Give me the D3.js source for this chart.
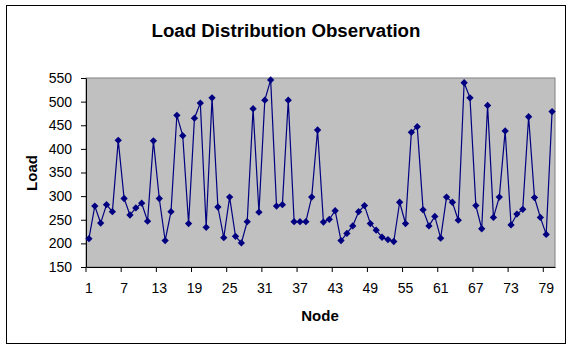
<!DOCTYPE html>
<html>
<head>
<meta charset="utf-8">
<script src="https://cdn.jsdelivr.net/npm/d3@7"></script>
<style>
  body { margin: 0; background: #fff; }
  text { font-family: "Liberation Sans", Arial, sans-serif; }
</style>
</head>
<body>
<div id="chart"></div>
<script>
// node numbers 1..80
var nodes = d3.range(1, 81);

// load per node
var loads = [
  210, 279, 243, 282, 267, 418, 295, 260, 275, 285,
  247, 417, 295, 206, 267, 471, 428, 242, 465, 497,
  234, 508, 277, 212, 298, 215, 201, 246, 485, 266,
  503, 546, 279, 282, 503, 246, 246, 246, 298, 440,
  245, 251, 269, 206, 221, 237, 267, 280, 242, 228,
  213, 208, 204, 287, 242, 435, 447, 271, 237, 257,
  211, 298, 287, 249, 540, 508, 280, 231, 492, 255,
  298, 438, 239, 262, 272, 468, 297, 255, 219, 479
];

var xTickLabels = [1, 7, 13, 19, 25, 31, 37, 43, 49, 55, 61, 67, 73, 79];
var yTicks = [150, 200, 250, 300, 350, 400, 450, 500, 550];

function init(){
    var w = 574, h = 351;
    var left = 86, right = 555, top = 78, bottom = 267;

    var svg = d3.select("#chart")
        .append("svg")
        .attr("width", w)
        .attr("height", h);

    // outer chart border
    svg.append("rect")
        .attr("x", 6.5).attr("y", 5.5)
        .attr("width", 559).attr("height", 338)
        .attr("fill", "#fff")
        .attr("stroke", "#000");

    svg.append("text")
        .attr("x", 286).attr("y", 37)
        .attr("text-anchor", "middle")
        .style("font-size", "18.7px")
        .style("font-weight", "bold")
        .text("Load Distribution Observation");

    var xScale = d3.scaleBand()
        .domain(nodes)
        .range([left, right])
        .padding(0);

    var yScale = d3.scaleLinear()
        .domain([150, 550])
        .range([bottom, top]);

    // plot area
    svg.append("rect")
        .attr("x", left).attr("y", top)
        .attr("width", right - left).attr("height", bottom - top)
        .attr("fill", "#c0c0c0")
        .attr("stroke", "#808080");

    var bw = xScale.bandwidth();

    var xAxis = svg.append("g")
        .attr("transform", "translate(0," + bottom + ")")
        .call(d3.axisBottom(xScale)
            .tickValues(xTickLabels)
            .tickSize(5)
            .tickPadding(11)
            .tickSizeOuter(0));
    // excel puts the marks between categories
    xAxis.selectAll(".tick line").attr("transform", "translate(" + (-bw / 2) + ",0)");

    var yAxis = svg.append("g")
        .attr("transform", "translate(" + left + ",0)")
        .call(d3.axisLeft(yScale)
            .tickValues(yTicks)
            .tickSize(5)
            .tickPadding(9)
            .tickSizeOuter(0));

    svg.selectAll(".domain, .tick line").attr("stroke", "#000");
    svg.selectAll(".tick text")
        .style("font-size", "14px")
        .style("font-family", "'Liberation Sans', Arial, sans-serif")
        .attr("fill", "#000");

    var line = d3.line()
        .x(function(d, i){ return xScale(nodes[i]) + bw / 2; })
        .y(function(d){ return yScale(d); });

    svg.append("path")
        .datum(loads)
        .attr("d", line)
        .attr("fill", "none")
        .attr("stroke", "#000080")
        .attr("stroke-width", 1.2);

    var diamond = d3.symbol().type(d3.symbolDiamond2).size(34);
    svg.selectAll(".pt")
        .data(loads)
        .enter()
        .append("path")
        .attr("class", "pt")
        .attr("d", diamond)
        .attr("transform", function(d, i){
            return "translate(" + (xScale(nodes[i]) + bw / 2) + "," + yScale(d) + ")";
        })
        .attr("fill", "#000080");

    svg.append("text")
        .attr("x", 320).attr("y", 321)
        .attr("text-anchor", "middle")
        .style("font-size", "15px")
        .style("font-weight", "bold")
        .text("Node");

    svg.append("text")
        .attr("transform", "translate(37,173) rotate(-90)")
        .attr("text-anchor", "middle")
        .style("font-size", "15px")
        .style("font-weight", "bold")
        .text("Load");
}
window.onload = init;
</script>
</body>
</html>
